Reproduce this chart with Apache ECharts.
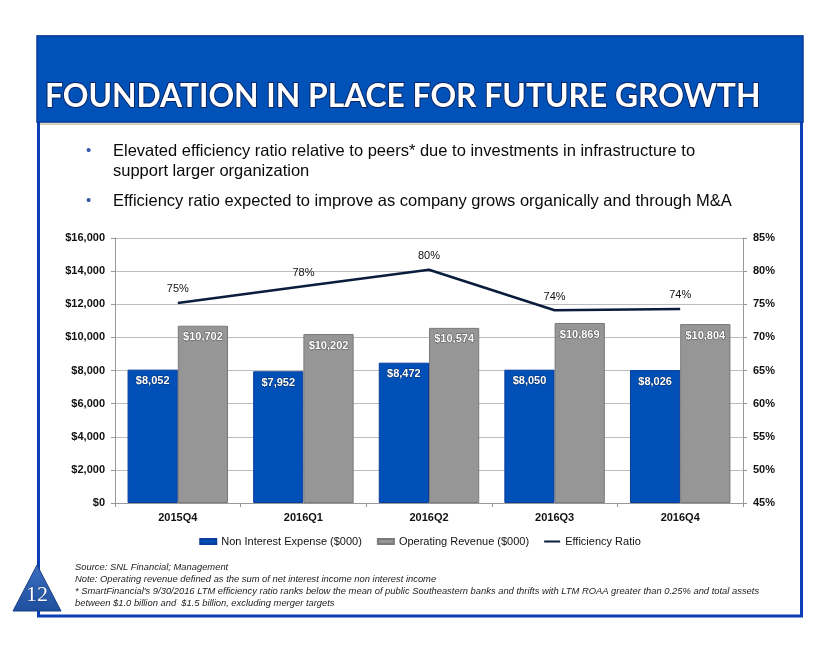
<!DOCTYPE html>
<html>
<head>
<meta charset="utf-8">
<script src="https://cdn.jsdelivr.net/npm/echarts@6/dist/echarts.min.js"></script>
<style>
html,body{margin:0;padding:0;background:#fff;}
#chart{width:840px;height:653px;}
</style>
</head>
<body>
<div id="chart"></div>
<script>
const categories = ['2015Q4', '2016Q1', '2016Q2', '2016Q3', '2016Q4'];
const nonInterestExpense = [8052, 7952, 8472, 8050, 8026];
const operatingRevenue = [10702, 10202, 10574, 10869, 10804];
const efficiencyRatio = [75.2, 77.7, 80.2, 74.1, 74.3];
const seriesNames = ['Non Interest Expense ($000)', 'Operating Revenue ($000)', 'Efficiency Ratio'];
const titleText = 'FOUNDATION IN PLACE FOR FUTURE GROWTH';
const bullets = [
  ['Elevated efficiency ratio relative to peers* due to investments in infrastructure to', 'support larger organization'],
  ['Efficiency ratio expected to improve as company grows organically and through M&A']
];
const footnotes = [
  'Source: SNL Financial; Management',
  'Note: Operating revenue defined as the sum of net interest income non interest income',
  "* SmartFinancial's 9/30/2016 LTM efficiency ratio ranks below the mean of public Southeastern banks and thrifts with LTM ROAA greater than 0.25% and total assets",
  'between $1.0 billion and  $1.5 billion, excluding merger targets'
];
const pageNumber = '12';

const chart = echarts.init(document.getElementById('chart'));
const txt = '#111';
const graphics = [];
// frame
graphics.push({type:'rect', shape:{x:38.5, y:37, width:763, height:579}, style:{fill:'none', stroke:'#0a3fb5', lineWidth:3}, z:1});
graphics.push({type:'rect', shape:{x:40, y:122, width:760, height:3}, style:{fill:'#d9d2c0'}, z:1});
graphics.push({type:'rect', shape:{x:37, y:36, width:766, height:86}, style:{fill:'#0051b8', stroke:'#0a3a9a', lineWidth:1.5}, z:2});
graphics.push({type:'text', x:45, y:97, style:{text:titleText, fill:'#fff', font:'bold 31.8px Lato', textVerticalAlign:'middle', stroke:'#0b2766', lineWidth:2}, z:3});
// bullets
let by = 151;
bullets.forEach((b, i) => {
  graphics.push({type:'text', x:86, y:by, style:{text:'•', fill:'#3558a8', font:'15px "Liberation Sans"', textVerticalAlign:'middle'}, z:3});
  b.forEach((line, j) => {
    graphics.push({type:'text', x:113, y:by + j*20, style:{text:line, fill:'#0a0a0a', font:'16.5px "Liberation Sans"', textVerticalAlign:'middle'}, z:3});
  });
  by += b.length*20 + 10;
});
// footnotes
footnotes.forEach((f, i) => {
  graphics.push({type:'text', x:75, y:567 + i*12, style:{text:f, fill:'#222', font:'italic 9.4px "Liberation Sans"', textVerticalAlign:'middle'}, z:3});
});
// page number triangle
graphics.push({type:'polygon', shape:{points:[[37,565],[13,611],[61,611]]}, style:{fill:new echarts.graphic.LinearGradient(0,0,0,1,[{offset:0,color:'#3d6fc0'},{offset:1,color:'#1d4f9e'}]), stroke:'#1b3f86', lineWidth:1}, z:4});
graphics.push({type:'text', x:37, y:595, style:{text:pageNumber, fill:'#fff', font:'22px "Liberation Serif"', textAlign:'center', textVerticalAlign:'middle', stroke:'#1b3f86', lineWidth:1}, z:5});

const labelCommon = {show:true, position:'insideTop', distance:6, color:'#fff', fontWeight:'bold', fontSize:11, fontFamily:'Liberation Sans', textBorderColor:'rgba(0,0,0,0.45)', textBorderWidth:1,
  formatter: p => '$' + p.value.toLocaleString('en-US')};

chart.setOption({
  animation:false,
  textStyle:{fontFamily:'Liberation Sans'},
  graphic: graphics,
  grid:{left:115, right:97, top:238, bottom:150},
  legend:{
    left:'center', top:531, itemWidth:16, itemHeight:5, itemGap:15,
    textStyle:{fontSize:11, color:txt, fontFamily:'Liberation Sans'},
    data:[{name:seriesNames[0], icon:'rect'}, {name:seriesNames[1], icon:'rect'}, {name:seriesNames[2], icon:'path://M0,0 L20,0 L20,2.5 L0,2.5 Z'}]
  },
  xAxis:{
    type:'category', data:categories,
    axisLine:{lineStyle:{color:'#999'}},
    axisTick:{show:true, length:4, lineStyle:{color:'#999'}},
    axisLabel:{color:txt, fontSize:11, fontWeight:'bold', margin:9}
  },
  yAxis:[
    {type:'value', min:0, max:16000, interval:2000,
     axisLine:{show:true, lineStyle:{color:'#999'}},
     axisTick:{show:true, length:4, lineStyle:{color:'#999'}},
     splitLine:{lineStyle:{color:'#bdbdbd', width:1}},
     axisLabel:{color:txt, fontSize:11, fontWeight:'bold', margin:10, formatter:v => '$' + v.toLocaleString('en-US')}},
    {type:'value', min:45, max:85, interval:5, position:'right',
     axisLine:{show:true, lineStyle:{color:'#999'}},
     axisTick:{show:true, length:4, lineStyle:{color:'#999'}},
     splitLine:{show:false},
     axisLabel:{color:txt, fontSize:11, fontWeight:'bold', margin:10, formatter:v => v + '%'}}
  ],
  series:[
    {name:seriesNames[0], type:'bar', data:nonInterestExpense, barGap:'0%', barCategoryGap:'20%',
     itemStyle:{color:'#0050b8', borderColor:'#0a3d9c', borderWidth:1}, label:labelCommon, z:2},
    {name:seriesNames[1], type:'bar', data:operatingRevenue,
     itemStyle:{color:'#969696', borderColor:'#7a7a7a', borderWidth:1}, label:labelCommon, z:2},
    {name:seriesNames[2], type:'line', yAxisIndex:1, data:efficiencyRatio, symbol:'circle', symbolSize:0.01, showSymbol:true,
     lineStyle:{color:'#0b1d3d', width:2.5}, itemStyle:{color:'#0b1d3d'},
     label:{show:true, position:'top', distance:8, color:txt, fontSize:11, fontFamily:'Liberation Sans', formatter:p => Math.round(p.value) + '%'}, z:5}
  ]
});
</script>
</body>
</html>
